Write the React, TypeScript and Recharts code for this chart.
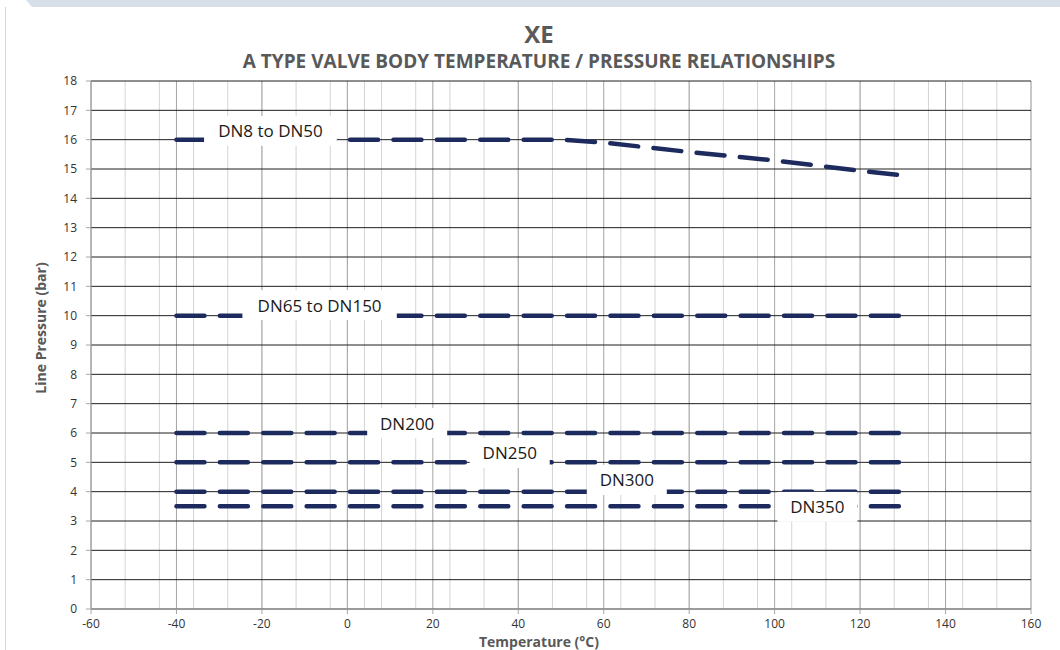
import { LineChart, Line, XAxis, YAxis, CartesianGrid, ReferenceDot } from 'recharts'

// temperature (°C) / line pressure (bar) points per size range
const dn8Temps = [-40, 50, 60, 80, 100, 120, 130]
const dn8Pressures = [16, 16, 15.9, 15.58, 15.29, 14.94, 14.78]

const dn65Temps = [-40, 130]
const dn65Pressures = [10, 10]

const dn200Temps = [-40, 130]
const dn200Pressures = [6, 6]

const dn250Temps = [-40, 130]
const dn250Pressures = [5, 5]

const dn300Temps = [-40, 130]
const dn300Pressures = [4, 4]

const dn350Temps = [-40, 130]
const dn350Pressures = [3.5, 3.5]

const xTicks = [-60, -40, -20, 0, 20, 40, 60, 80, 100, 120, 140, 160]
const yTicks = [0, 1, 2, 3, 4, 5, 6, 7, 8, 9, 10, 11, 12, 13, 14, 15, 16, 17, 18]
// minor vertical grid every 4 °C
const xMinorGrid = Array.from({ length: 56 }, (_, i) => -60 + i * 4)

const labelNames = ['DN8 to DN50', 'DN65 to DN150', 'DN200', 'DN250', 'DN300', 'DN350']
const labelTemps = [-18, -6.5, 14, 38, 65.4, 110]
const labelPressures = [16.3, 10.36, 6.34, 5.32, 4.4, 3.48]

const toPoints = (temps: number[], pressures: number[]) =>
  temps.map((t, i) => ({ t, p: pressures[i] }))

const series = [
  toPoints(dn8Temps, dn8Pressures),
  toPoints(dn65Temps, dn65Pressures),
  toPoints(dn200Temps, dn200Pressures),
  toPoints(dn250Temps, dn250Pressures),
  toPoints(dn300Temps, dn300Pressures),
  toPoints(dn350Temps, dn350Pressures),
]

const LINE_COLOR = '#1d2a5e'
const FONT = '"Open Sans", sans-serif'

const LabelBox = (props: any) => {
  const { cx, cy, text } = props
  const w = text.length > 6 ? text.length * 10.8 + 14 : 80
  const h = 30
  return (
    <g>
      <rect x={cx - w / 2} y={cy - h / 2} width={w} height={h} fill="#ffffff" />
      <text
        x={cx}
        y={cy}
        textAnchor="middle"
        dominantBaseline="central"
        fontFamily={FONT}
        fontSize={17}
        fill="#1a1a1a"
      >
        {text}
      </text>
    </g>
  )
}

export default function App() {
  return (
    <div
      style={{
        position: 'absolute',
        left: 0,
        top: 0,
        width: 1060,
        height: 650,
        overflow: 'hidden',
        background: '#ffffff',
        fontFamily: FONT,
      }}
    >
      {/* window chrome */}
      <div
        style={{
          position: 'absolute',
          left: 26,
          top: 0,
          right: 0,
          height: 7,
          background: '#d7dfe8',
          clipPath: 'polygon(0 0, 100% 0, 100% 100%, 6px 100%)',
        }}
      />
      <div style={{ position: 'absolute', left: 5, top: 7, width: 1, bottom: 0, background: '#d9d9d9' }} />

      <LineChart
        width={1060}
        height={650}
        margin={{ top: 81, right: 29, bottom: 11, left: 31 }}
        style={{ position: 'absolute', left: 0, top: 0 }}
      >
        <CartesianGrid horizontal={false} verticalValues={xMinorGrid} stroke="#d4d4d4" />
        <CartesianGrid horizontal={false} verticalValues={xTicks} stroke="#a6a6a6" />
        <CartesianGrid vertical={false} horizontalValues={yTicks} stroke="#1f1f1f" />
        <XAxis
          type="number"
          dataKey="t"
          domain={[-60, 160]}
          ticks={xTicks}
          allowDataOverflow
          height={30}
          tickSize={5}
          tickMargin={5}
          stroke="#a6a6a6"
          tick={{ fill: '#333333', fontSize: 12, fontFamily: FONT }}
        />
        <YAxis
          type="number"
          domain={[0, 18]}
          ticks={yTicks}
          allowDataOverflow
          width={60}
          tickSize={5}
          tickMargin={9}
          stroke="#a6a6a6"
          tick={{ fill: '#333333', fontSize: 12, fontFamily: FONT }}
        />
        {series.map((data, i) => (
          <Line
            key={i}
            data={data}
            dataKey="p"
            type="linear"
            stroke={LINE_COLOR}
            strokeWidth={4.5}
            strokeDasharray="28 15.4"
            strokeLinecap="round"
            dot={false}
            activeDot={false}
            isAnimationActive={false}
          />
        ))}
        {labelNames.map((name, i) => (
          <ReferenceDot
            key={name}
            x={labelTemps[i]}
            y={labelPressures[i]}
            r={1}
            shape={(p: any) => <LabelBox {...p} text={name} />}
          />
        ))}
      </LineChart>

      {/* titles */}
      <div
        style={{
          position: 'absolute',
          left: 0,
          width: 1078,
          top: 18,
          textAlign: 'center',
          fontSize: 24,
          fontWeight: 700,
          color: '#595959',
          lineHeight: '32px',
        }}
      >
        XE
      </div>
      <div
        style={{
          position: 'absolute',
          left: 0,
          width: 1078,
          top: 48,
          textAlign: 'center',
          fontSize: 19,
          fontWeight: 700,
          color: '#595959',
          lineHeight: '26px',
        }}
      >
        A TYPE VALVE BODY TEMPERATURE / PRESSURE RELATIONSHIPS
      </div>
      <div
        style={{
          position: 'absolute',
          left: 0,
          width: 1078,
          top: 633,
          textAlign: 'center',
          fontSize: 14,
          fontWeight: 700,
          color: '#595959',
          lineHeight: '17px',
        }}
      >
        Temperature (°C)
      </div>
      <div
        style={{
          position: 'absolute',
          left: 40,
          top: 328,
          transform: 'translate(-50%, -50%) rotate(-90deg)',
          whiteSpace: 'nowrap',
          fontSize: 14,
          fontWeight: 700,
          color: '#595959',
        }}
      >
        Line Pressure (bar)
      </div>
    </div>
  )
}
